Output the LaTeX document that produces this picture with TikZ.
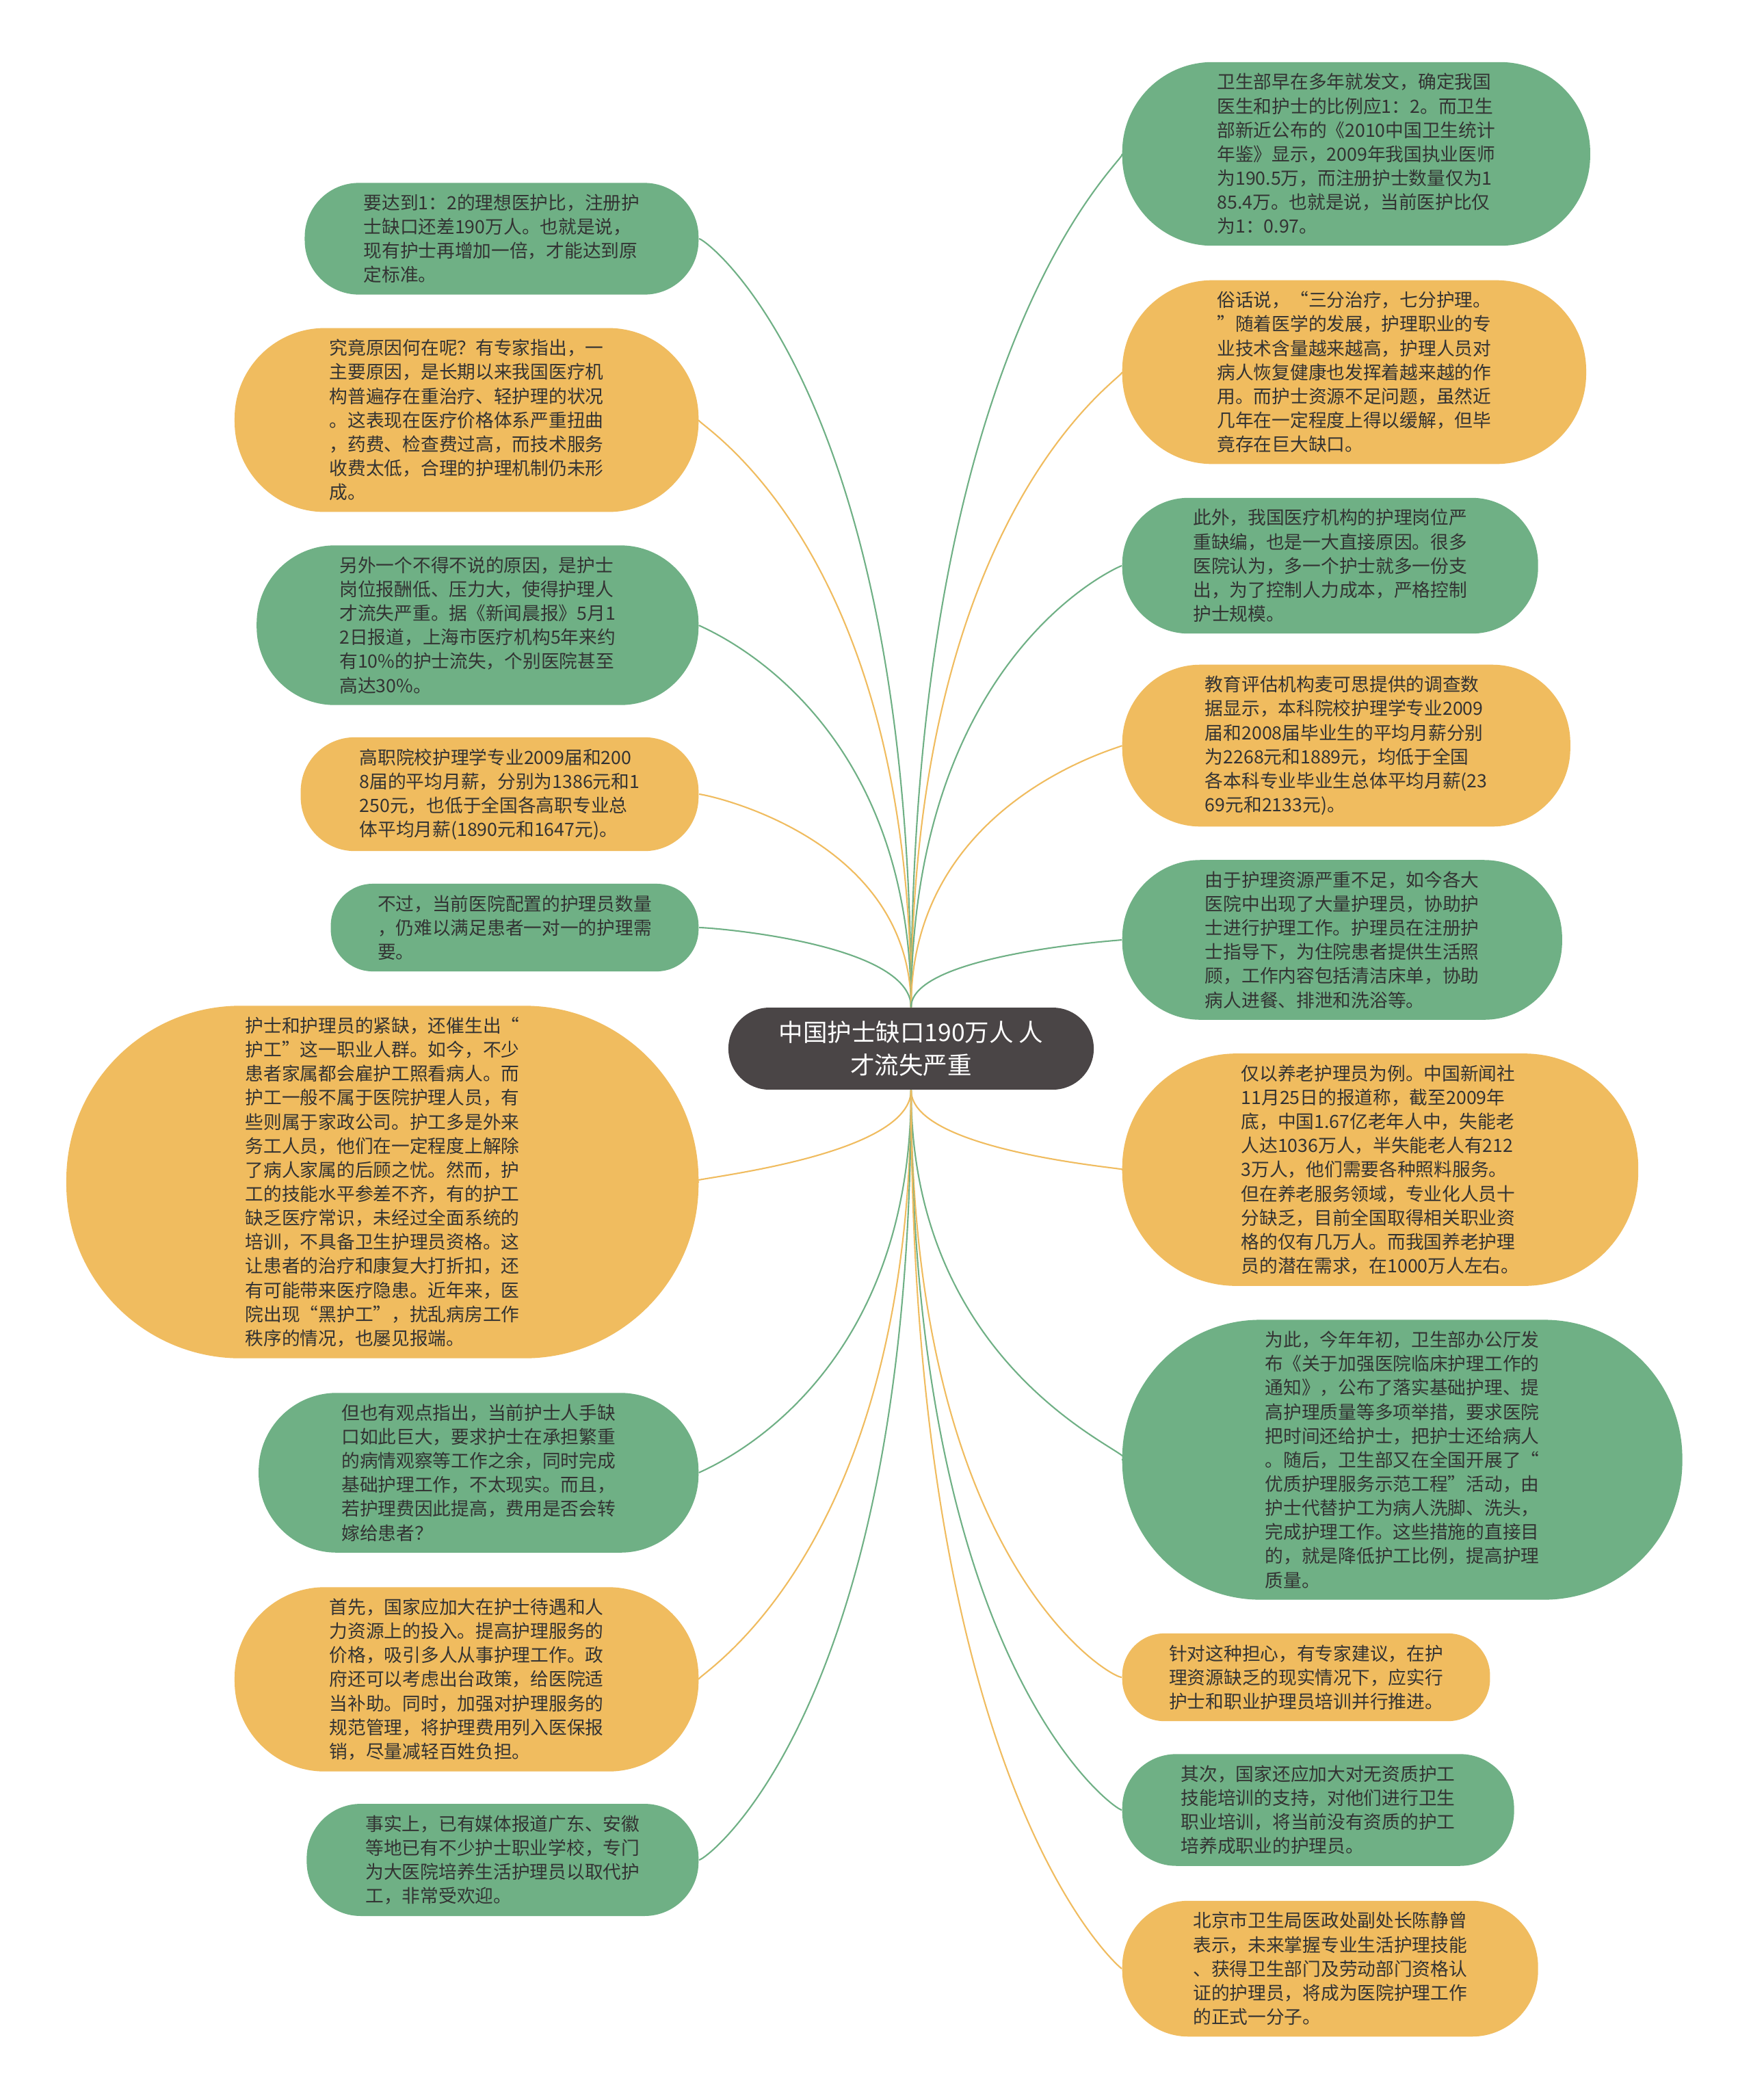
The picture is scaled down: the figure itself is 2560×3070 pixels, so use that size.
\documentclass[tikz,border=0pt]{standalone}
\usepackage{fontspec}
\setmainfont{Noto Sans CJK SC}
\usetikzlibrary{calc}
\definecolor{cgreen}{HTML}{6FB085}
\definecolor{corange}{HTML}{F0BC5F}
\definecolor{cdark}{HTML}{4A4546}
\definecolor{ctext}{HTML}{333333}
\tikzset{
  % topic={colour}{number of lines}: pill-shaped box, ends as round as the box is high
  topic/.style 2 args={rectangle, fill=#1, text=ctext, align=left,
    rounded corners={#2*5pt+2.5pt}, inner xsep={#2*5pt+4.5pt}, inner ysep=4.7pt,
    font=\fontsize{7.6}{10}\selectfont},
  root/.style={rectangle, fill=cdark, text=white, align=center,
    rounded corners=17pt, inner xsep=21pt, inner ysep=5.7pt,
    font=\fontsize{10.1}{13.4}\selectfont},
  link/.style={draw=#1, line width=0.6pt},
}
\begin{document}
\begin{tikzpicture}[x=0.1mm, y=-0.1mm]
  \fill[white] (0,0) rectangle (2560,3070);
  \useasboundingbox (0,0) rectangle (2560,3070);
  % central topic
  \node[root] (hub) at (1332,1533) {中国护士缺口190万人 人\\才流失严重};
  % left branch
  \node[topic={cgreen}{4}, anchor=east] (l1) at (1022,349) {要达到1：2的理想医护比，注册护\\士缺口还差190万人。也就是说，\\现有护士再增加一倍，才能达到原\\定标准。};
  \node[topic={corange}{7}, anchor=east] (l2) at (1022,614) {究竟原因何在呢？有专家指出，一\\主要原因，是长期以来我国医疗机\\构普遍存在重治疗、轻护理的状况\\。这表现在医疗价格体系严重扭曲\\，药费、检查费过高，而技术服务\\收费太低，合理的护理机制仍未形\\成。};
  \node[topic={cgreen}{6}, anchor=east] (l3) at (1022,914) {另外一个不得不说的原因，是护士\\岗位报酬低、压力大，使得护理人\\才流失严重。据《新闻晨报》5月1\\2日报道，上海市医疗机构5年来约\\有10\%的护士流失，个别医院甚至\\高达30\%。};
  \node[topic={corange}{4}, anchor=east] (l4) at (1022,1161) {高职院校护理学专业2009届和200\\8届的平均月薪，分别为1386元和1\\250元，也低于全国各高职专业总\\体平均月薪(1890元和1647元)。};
  \node[topic={cgreen}{3}, anchor=east] (l5) at (1022,1356) {不过，当前医院配置的护理员数量\\，仍难以满足患者一对一的护理需\\要。};
  \node[topic={corange}{14}, anchor=east] (l6) at (1022,1728) {护士和护理员的紧缺，还催生出“\\护工”这一职业人群。如今，不少\\患者家属都会雇护工照看病人。而\\护工一般不属于医院护理人员，有\\些则属于家政公司。护工多是外来\\务工人员，他们在一定程度上解除\\了病人家属的后顾之忧。然而，护\\工的技能水平参差不齐，有的护工\\缺乏医疗常识，未经过全面系统的\\培训，不具备卫生护理员资格。这\\让患者的治疗和康复大打折扣，还\\有可能带来医疗隐患。近年来，医\\院出现“黑护工”，扰乱病房工作\\秩序的情况，也屡见报端。};
  \node[topic={cgreen}{6}, anchor=east] (l7) at (1022,2153) {但也有观点指出，当前护士人手缺\\口如此巨大，要求护士在承担繁重\\的病情观察等工作之余，同时完成\\基础护理工作，不太现实。而且，\\若护理费因此提高，费用是否会转\\嫁给患者？};
  \node[topic={corange}{7}, anchor=east] (l8) at (1022,2455) {首先，国家应加大在护士待遇和人\\力资源上的投入。提高护理服务的\\价格，吸引多人从事护理工作。政\\府还可以考虑出台政策，给医院适\\当补助。同时，加强对护理服务的\\规范管理，将护理费用列入医保报\\销，尽量减轻百姓负担。};
  \node[topic={cgreen}{4}, anchor=east] (l9) at (1022,2719) {事实上，已有媒体报道广东、安徽\\等地已有不少护士职业学校，专门\\为大医院培养生活护理员以取代护\\工，非常受欢迎。};
  % right branch
  \node[topic={cgreen}{7}, anchor=west] (r1) at (1640,225) {卫生部早在多年就发文，确定我国\\医生和护士的比例应1：2。而卫生\\部新近公布的《2010中国卫生统计\\年鉴》显示，2009年我国执业医师\\为190.5万，而注册护士数量仅为1\\85.4万。也就是说，当前医护比仅\\为1：0.97。};
  \node[topic={corange}{7}, anchor=west] (r2) at (1640,544) {俗话说，“三分治疗，七分护理。\\”随着医学的发展，护理职业的专\\业技术含量越来越高，护理人员对\\病人恢复健康也发挥着越来越的作\\用。而护士资源不足问题，虽然近\\几年在一定程度上得以缓解，但毕\\竟存在巨大缺口。};
  \node[topic={cgreen}{5}, anchor=west] (r3) at (1640,827) {此外，我国医疗机构的护理岗位严\\重缺编，也是一大直接原因。很多\\医院认为，多一个护士就多一份支\\出，为了控制人力成本，严格控制\\护士规模。};
  \node[topic={corange}{6}, anchor=west] (r4) at (1640,1090) {教育评估机构麦可思提供的调查数\\据显示，本科院校护理学专业2009\\届和2008届毕业生的平均月薪分别\\为2268元和1889元，均低于全国\\各本科专业毕业生总体平均月薪(23\\69元和2133元)。};
  \node[topic={cgreen}{6}, anchor=west] (r5) at (1640,1374) {由于护理资源严重不足，如今各大\\医院中出现了大量护理员，协助护\\士进行护理工作。护理员在注册护\\士指导下，为住院患者提供生活照\\顾，工作内容包括清洁床单，协助\\病人进餐、排泄和洗浴等。};
  \node[topic={corange}{9}, anchor=west] (r6) at (1640,1710) {仅以养老护理员为例。中国新闻社\\11月25日的报道称，截至2009年\\底，中国1.67亿老年人中，失能老\\人达1036万人，半失能老人有212\\3万人，他们需要各种照料服务。\\但在养老服务领域，专业化人员十\\分缺乏，目前全国取得相关职业资\\格的仅有几万人。而我国养老护理\\员的潜在需求，在1000万人左右。};
  \node[topic={cgreen}{11}, anchor=west] (r7) at (1640,2134) {为此，今年年初，卫生部办公厅发\\布《关于加强医院临床护理工作的\\通知》，公布了落实基础护理、提\\高护理质量等多项举措，要求医院\\把时间还给护士，把护士还给病人\\。随后，卫生部又在全国开展了“\\优质护理服务示范工程”活动，由\\护士代替护工为病人洗脚、洗头，\\完成护理工作。这些措施的直接目\\的，就是降低护工比例，提高护理\\质量。};
  \node[topic={corange}{3}, anchor=west] (r8) at (1640,2452) {针对这种担心，有专家建议，在护\\理资源缺乏的现实情况下，应实行\\护士和职业护理员培训并行推进。};
  \node[topic={cgreen}{4}, anchor=west] (r9) at (1640,2646) {其次，国家还应加大对无资质护工\\技能培训的支持，对他们进行卫生\\职业培训，将当前没有资质的护工\\培养成职业的护理员。};
  \node[topic={corange}{5}, anchor=west] (r10) at (1640,2878) {北京市卫生局医政处副处长陈静曾\\表示，未来掌握专业生活护理技能\\、获得卫生部门及劳动部门资格认\\证的护理员，将成为医院护理工作\\的正式一分子。};
  % connectors: leave the hub vertically, arrive at the topic horizontally
  \foreach \n/\c in {l1/cgreen, l2/corange, l3/cgreen, l4/corange, l5/cgreen,
                     r1/cgreen, r2/corange, r3/cgreen, r4/corange, r5/cgreen}
    \draw[link=\c] (hub.north) .. controls ($(hub.north)!0.8!(hub.north |- \n)$)
      and ($(\n)!0.5!(hub.north |- \n)$) .. (\n);
  \foreach \n/\c in {l6/corange, l7/cgreen, l8/corange, l9/cgreen,
                     r6/corange, r7/cgreen, r8/corange, r9/cgreen, r10/corange}
    \draw[link=\c] (hub.south) .. controls ($(hub.south)!0.8!(hub.south |- \n)$)
      and ($(\n)!0.5!(hub.south |- \n)$) .. (\n);
\end{tikzpicture}
\end{document}
